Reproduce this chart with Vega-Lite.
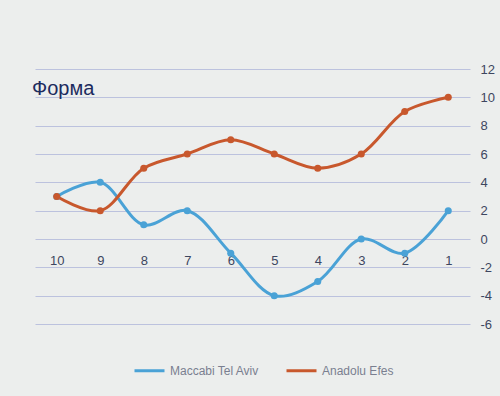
{
  "$schema": "https://vega.github.io/schema/vega-lite/v6.json",
  "autosize": {"type": "none"},
  "width": 435,
  "height": 255,
  "padding": {"left": 35, "top": 69, "right": 30, "bottom": 72},
  "background": "#eceeed",
  "title": {
    "text": "Форма",
    "anchor": "start",
    "frame": "group",
    "orient": "top",
    "offset": -52,
    "baseline": "alphabetic",
    "dx": -3,
    "font": "Liberation Sans",
    "fontSize": 20,
    "fontWeight": "normal",
    "color": "#1c2b5e"
  },
  "data": {
    "values": [
      {"team": "Maccabi Tel Aviv", "game": 10, "value": 3},
      {"team": "Maccabi Tel Aviv", "game": 9, "value": 4},
      {"team": "Maccabi Tel Aviv", "game": 8, "value": 1},
      {"team": "Maccabi Tel Aviv", "game": 7, "value": 2},
      {"team": "Maccabi Tel Aviv", "game": 6, "value": -1},
      {"team": "Maccabi Tel Aviv", "game": 5, "value": -4},
      {"team": "Maccabi Tel Aviv", "game": 4, "value": -3},
      {"team": "Maccabi Tel Aviv", "game": 3, "value": 0},
      {"team": "Maccabi Tel Aviv", "game": 2, "value": -1},
      {"team": "Maccabi Tel Aviv", "game": 1, "value": 2},
      {"team": "Anadolu Efes", "game": 10, "value": 3},
      {"team": "Anadolu Efes", "game": 9, "value": 2},
      {"team": "Anadolu Efes", "game": 8, "value": 5},
      {"team": "Anadolu Efes", "game": 7, "value": 6},
      {"team": "Anadolu Efes", "game": 6, "value": 7},
      {"team": "Anadolu Efes", "game": 5, "value": 6},
      {"team": "Anadolu Efes", "game": 4, "value": 5},
      {"team": "Anadolu Efes", "game": 3, "value": 6},
      {"team": "Anadolu Efes", "game": 2, "value": 9},
      {"team": "Anadolu Efes", "game": 1, "value": 10}
    ]
  },
  "mark": {
    "type": "line",
    "interpolate": "catmull-rom",
    "strokeWidth": 3,
    "point": {"filled": true, "size": 50}
  },
  "encoding": {
    "x": {
      "field": "game",
      "type": "ordinal",
      "sort": "descending",
      "scale": {"type": "point", "padding": 0.5},
      "axis": {
        "title": null,
        "labelAngle": 0,
        "domain": false,
        "ticks": false,
        "grid": false,
        "offset": -76,
        "labelPadding": 6,
        "labelFont": "Liberation Sans",
        "labelFontSize": 13,
        "labelColor": "#3d4660"
      }
    },
    "y": {
      "field": "value",
      "type": "quantitative",
      "scale": {"domain": [-6, 12], "nice": false, "zero": false},
      "axis": {
        "orient": "right",
        "title": null,
        "values": [-6, -4, -2, 0, 2, 4, 6, 8, 10, 12],
        "labelExpr": "'' + datum.value",
        "domain": false,
        "ticks": false,
        "grid": true,
        "gridColor": "#bcc2de",
        "gridWidth": 1.2,
        "labelPadding": 10,
        "labelFont": "Liberation Sans",
        "labelFontSize": 13,
        "labelColor": "#3d4660"
      }
    },
    "color": {
      "field": "team",
      "type": "nominal",
      "scale": {
        "domain": ["Maccabi Tel Aviv", "Anadolu Efes"],
        "range": ["#4aa2d6", "#c8582d"]
      },
      "legend": {
        "title": null,
        "orient": "none",
        "legendX": 98,
        "legendY": 285,
        "direction": "horizontal",
        "symbolType": "stroke",
        "symbolStrokeWidth": 3,
        "symbolSize": 900,
        "labelFont": "Liberation Sans",
        "labelFontSize": 12,
        "labelColor": "#7a7f90",
        "columnPadding": 20
      }
    }
  },
  "config": {"view": {"stroke": null}}
}
